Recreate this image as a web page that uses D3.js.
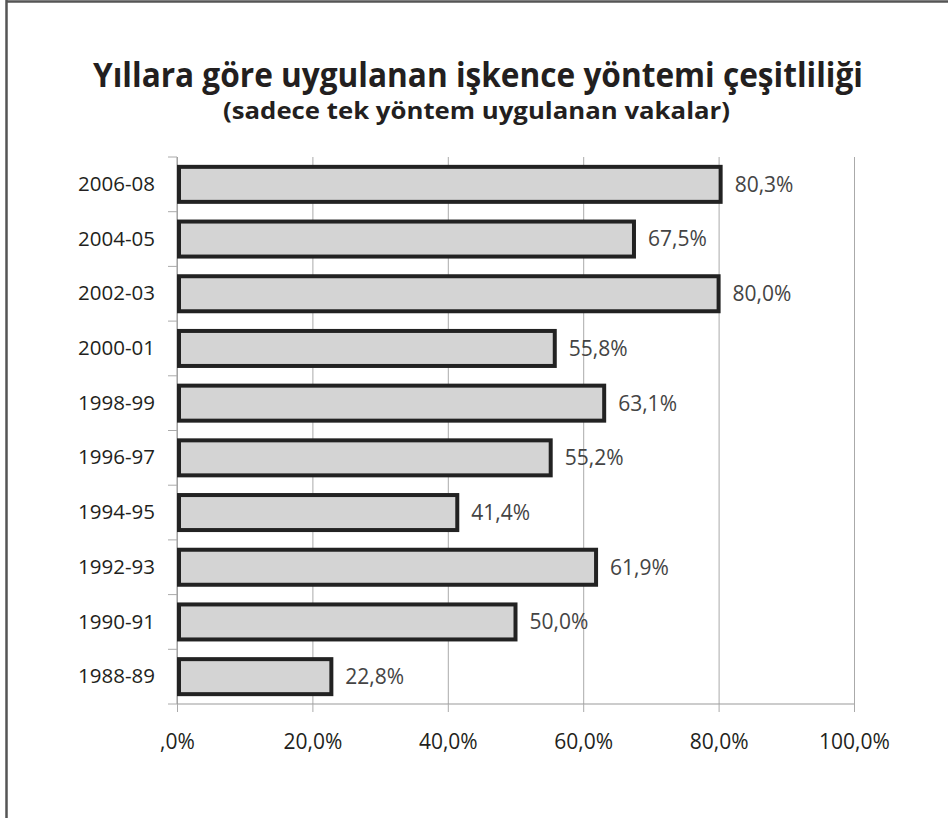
<!DOCTYPE html>
<html>
<head>
<meta charset="utf-8">
<script src="https://cdn.jsdelivr.net/npm/d3@7"></script>
<style>
  body { margin: 0; background: #fff; }
  svg { display: block; font-family: "Open Sans", sans-serif; }
</style>
</head>
<body>
<main></main>
<script>
// Chart data
const categories = ["2006-08", "2004-05", "2002-03", "2000-01", "1998-99",
                    "1996-97", "1994-95", "1992-93", "1990-91", "1988-89"];
const values = [80.3, 67.5, 80.0, 55.8, 63.1, 55.2, 41.4, 61.9, 50.0, 22.8];
const valueLabels = ["80,3%", "67,5%", "80,0%", "55,8%", "63,1%",
                     "55,2%", "41,4%", "61,9%", "50,0%", "22,8%"];
const tickValues = [0, 20, 40, 60, 80, 100];
const tickLabels = [",0%", "20,0%", "40,0%", "60,0%", "80,0%", "100,0%"];

const titleText = "Yıllara göre uygulanan işkence yöntemi çeşitliliği";
const subtitleText = "(sadece tek yöntem uygulanan vakalar)";

const rows = categories.map((c, i) => ({ cat: c, value: values[i], label: valueLabels[i] }));

const svg = d3.select("main")
              .append("svg")
              .attr("width", 948)
              .attr("height", 818);

// frame (top and left edges only visible)
svg.append("line").attr("x1", 6).attr("x2", 948).attr("y1", 1.5).attr("y2", 1.5)
   .attr("stroke", "#555").attr("stroke-width", 2.5);
svg.append("line").attr("x1", 6.5).attr("x2", 6.5).attr("y1", 0).attr("y2", 818)
   .attr("stroke", "#555").attr("stroke-width", 2.5);

// titles: condensed bold, squeezed to the reference widths
svg.append("text")
   .attr("x", 93).attr("y", 87)
   .attr("font-size", 34).attr("font-weight", "bold")
   .attr("fill", "#231f20")
   .attr("textLength", 770).attr("lengthAdjust", "spacingAndGlyphs")
   .text(titleText);

svg.append("text")
   .attr("x", 223).attr("y", 119)
   .attr("font-size", 22.5).attr("font-weight", "bold")
   .attr("fill", "#231f20")
   .attr("textLength", 507).attr("lengthAdjust", "spacingAndGlyphs")
   .text(subtitleText);

// scales
const x = d3.scaleLinear().domain([0, 100]).range([177, 854]);
const y = d3.scaleBand().domain(categories).range([157, 704])
            .paddingInner(0.36).paddingOuter(0.18);

// vertical gridlines
svg.append("g")
   .attr("transform", "translate(0,704)")
   .call(d3.axisBottom(x).tickValues(tickValues).tickSize(-(704 - 157)).tickFormat(""))
   .call(g => g.select(".domain").remove())
   .call(g => g.selectAll("line").attr("stroke", "#aaa"));

// bottom axis
const xAxis = svg.append("g")
   .attr("transform", "translate(0,704)")
   .call(d3.axisBottom(x).tickValues(tickValues).tickSize(8).tickPadding(22)
           .tickFormat((d, i) => tickLabels[i]));
xAxis.select(".domain").attr("stroke", "#999").attr("d", "M177,0H854");
xAxis.selectAll("line").attr("stroke", "#aaa");
xAxis.selectAll("text").attr("font-size", 21).attr("fill", "#231f20")
     .attr("font-family", "Open Sans, sans-serif");

// left axis: labels at band centres, ticks at band boundaries
const yAxis = svg.append("g")
   .attr("transform", "translate(177,0)")
   .call(d3.axisLeft(y).tickSize(0).tickPadding(22));
yAxis.select(".domain").attr("stroke", "#999").attr("d", "M0,157V704");
yAxis.selectAll("text").attr("font-size", 20.5).attr("fill", "#231f20")
     .attr("font-family", "Open Sans, sans-serif");

const gap = y.step() - y.bandwidth();
const boundaries = categories.map(c => y(c) - gap / 2).concat([y.range()[1]]);
svg.append("g").selectAll("line")
   .data(boundaries)
   .enter().append("line")
   .attr("x1", 168).attr("x2", 177)
   .attr("y1", d => d).attr("y2", d => d)
   .attr("stroke", "#aaa");

// bars
svg.append("g").selectAll("rect")
   .data(rows)
   .enter().append("rect")
   .attr("x", x(0) + 2)
   .attr("y", d => y(d.cat))
   .attr("width", d => x(d.value) - x(0) - 2)
   .attr("height", y.bandwidth())
   .attr("fill", "#d4d4d4")
   .attr("stroke", "#222")
   .attr("stroke-width", 4);

// value labels
svg.append("g").selectAll("text")
   .data(rows)
   .enter().append("text")
   .attr("x", d => x(d.value) + 14)
   .attr("y", d => y(d.cat) + y.bandwidth() / 2)
   .attr("dy", "0.35em")
   .attr("font-size", 21)
   .attr("fill", "#444")
   .text(d => d.label);
</script>
</body>
</html>
